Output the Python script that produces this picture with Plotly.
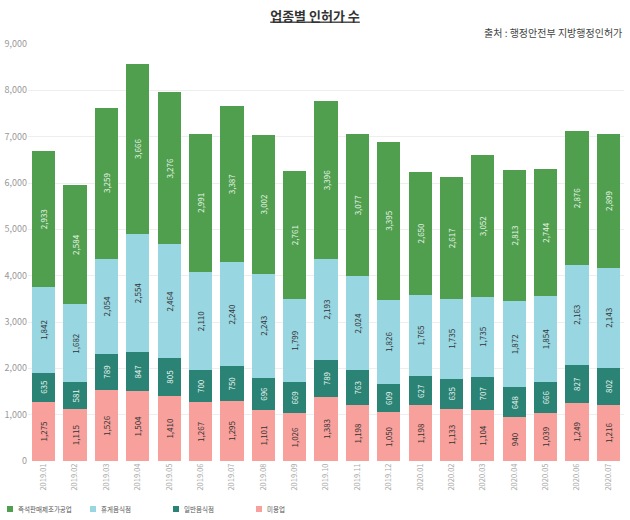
import plotly.graph_objects as go

months = ["2019.01","2019.02","2019.03","2019.04","2019.05","2019.06","2019.07","2019.08","2019.09","2019.10",
          "2019.11","2019.12","2020.01","2020.02","2020.03","2020.04","2020.05","2020.06","2020.07"]
beauty = [1275,1115,1526,1504,1410,1267,1295,1101,1026,1383,1198,1050,1198,1133,1104,940,1039,1249,1216]
general_rest = [635,581,789,847,805,700,750,696,669,789,763,609,627,635,707,648,666,827,802]
cafe = [1842,1682,2054,2554,2464,2110,2240,2243,1799,2193,2024,1826,1765,1735,1735,1872,1854,2163,2143]
instant_food = [2933,2584,3259,3666,3276,2991,3387,3002,2761,3396,3077,3395,2650,2617,3052,2813,2744,2876,2899]

series = [
    ("미용업", beauty, "#f8a09b", "#333333"),
    ("일반음식점", general_rest, "#2a8374", "#e8f4f0"),
    ("휴게음식점", cafe, "#98d6e1", "#333333"),
    ("즉석판매제조가공업", instant_food, "#4f9f4e", "#e8f4e8"),
]
legend_order = ["즉석판매제조가공업", "휴게음식점", "일반음식점", "미용업"]

FONT = "Noto Sans CJK KR"
W, H = 630, 520
ML, MR, MT, MB = 28, 6, 44, 59
fig = go.Figure()
for name, vals, color, tcolor in series:
    fig.add_trace(go.Bar(
        x=months, y=vals, name=name, marker=dict(color=color, line=dict(width=0)),
        text=[f"{v:,}" for v in vals], texttemplate="%{text}",
        textposition="inside", insidetextanchor="middle", textangle=-90,
        textfont=dict(size=8, color=tcolor, family=FONT),
        showlegend=False,
    ))

fig.update_layout(
    barmode="stack", bargap=0.26,
    width=W, height=H,
    margin=dict(l=ML, r=MR, t=MT, b=MB, autoexpand=False),
    plot_bgcolor="white", paper_bgcolor="white",
    font=dict(family=FONT, color="#888888", size=9),
    title=dict(text="<b><u>업종별 인허가 수</u></b>", x=0.5, xanchor="center", y=1 - 16 / H, yanchor="middle",
               font=dict(size=13, color="#333333", family=FONT)),
    uniformtext=dict(minsize=8, mode="show"),
)
fig.add_annotation(text="출처 : 행정안전부 지방행정인허가", xref="paper", yref="paper",
                   x=1.0, xanchor="right", y=1.0, yanchor="middle", yshift=12, showarrow=False,
                   font=dict(size=10, color="#444444", family=FONT))

# manual legend (colour keys) below the chart
pw = W - ML - MR
ph = H - MT - MB
colors = {name: color for name, _, color, _ in series}
for i, name in enumerate(legend_order):
    x0px = 7 + i * 83
    yc = 509
    fig.add_shape(type="rect", xref="paper", yref="paper",
                  x0=(x0px - ML) / pw, x1=(x0px + 6 - ML) / pw,
                  y0=(H - MB - (yc + 3)) / ph, y1=(H - MB - (yc - 3)) / ph,
                  fillcolor=colors[name], line=dict(width=0))
    fig.add_annotation(text=name, xref="paper", yref="paper",
                       x=(x0px + 9 - ML) / pw, xanchor="left",
                       y=(H - MB - yc) / ph, yanchor="middle", showarrow=False,
                       font=dict(size=6.5, color="#555555", family=FONT))

fig.update_yaxes(range=[0, 9000], dtick=1000, tickformat=",", gridcolor="#eeeeee",
                 zeroline=False, showline=False, ticks="", tickfont=dict(size=9, color="#999999"))
fig.update_xaxes(tickangle=-90, showline=False, ticks="", tickfont=dict(size=7.5, color="#aaaaaa"))

fig.write_html("out.html")
